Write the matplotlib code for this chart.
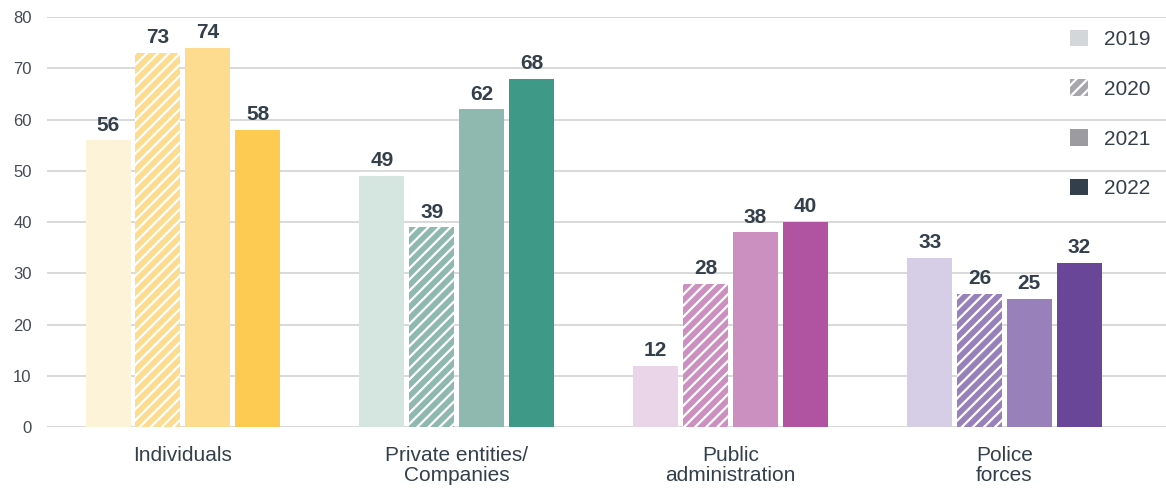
import numpy as np
import matplotlib.pyplot as plt
from matplotlib.patches import Patch

plt.rcParams['font.family'] = ['Liberation Sans', 'DejaVu Sans']
plt.rcParams['hatch.linewidth'] = 1.6

categories = ['Individuals', 'Private entities/\nCompanies', 'Public\nadministration', 'Police\nforces']
years = ['2019', '2020', '2021', '2022']
v2019 = [56, 49, 12, 33]
v2020 = [73, 39, 28, 26]
v2021 = [74, 62, 38, 25]
v2022 = [58, 68, 40, 32]

# one palette per category, light -> dark across years
palette = [
    ['#fdf3d8', '#fddc90', '#fddc90', '#fdcb52'],
    ['#d5e5e0', '#8fb8ae', '#8fb8ae', '#3e9986'],
    ['#ead5e8', '#cb8fc0', '#cb8fc0', '#b053a0'],
    ['#d6cde6', '#9880bb', '#9880bb', '#6a4698'],
]
legend_colors = ['#d3d7d9', '#a6a6ac', '#9b9ba0', '#333f4b']
text_color = '#333f4b'

fig = plt.figure(figsize=(11.66, 4.88), dpi=100)
ax = fig.add_axes([0.0403, 0.125, 0.9597, 0.840])

x = np.arange(len(categories))
pitch = 0.182
width = 0.164
series = [v2019, v2020, v2021, v2022]
for j, vals in enumerate(series):
    xs = x + (j - 1.5) * pitch
    cols = [palette[i][j] for i in range(len(categories))]
    if j == 1:
        bars = ax.bar(xs, vals, width, color=cols, edgecolor='white', hatch='///', linewidth=0, zorder=3)
    else:
        bars = ax.bar(xs, vals, width, color=cols, linewidth=0, zorder=3)
    for b, v in zip(bars, vals):
        ax.annotate(str(v), (b.get_x() + b.get_width() / 2, v), xytext=(0, 4),
                    textcoords='offset points', ha='center', va='bottom',
                    fontsize=15, fontweight='bold', color=text_color)

ax.set_xlim(-0.496, 3.59)
ax.set_ylim(0, 80)
ax.set_yticks(range(0, 81, 10))
ax.yaxis.grid(True, color='#d9d9d9', linewidth=1.4, zorder=0)
ax.set_axisbelow(True)
for s in ax.spines.values():
    s.set_visible(False)
ax.tick_params(axis='y', length=0, pad=11, labelsize=12, labelcolor='#444b52')
ax.set_xticks(x)
ax.set_xticklabels(categories, fontsize=15, color=text_color, linespacing=1.05)
ax.tick_params(axis='x', length=0, pad=14)

handles = [Patch(facecolor=c, edgecolor='white', linewidth=0) for c in legend_colors]
handles[1] = Patch(facecolor=legend_colors[1], edgecolor='white', hatch='///', linewidth=0)
leg = ax.legend(handles, years, loc='upper right', bbox_to_anchor=(0.997, 1.0), frameon=False,
                fontsize=15, labelcolor=text_color, handlelength=0.85, handleheight=0.85,
                labelspacing=1.45, handletextpad=0.75, borderaxespad=0.2)

fig.savefig('out.png', dpi=100)
